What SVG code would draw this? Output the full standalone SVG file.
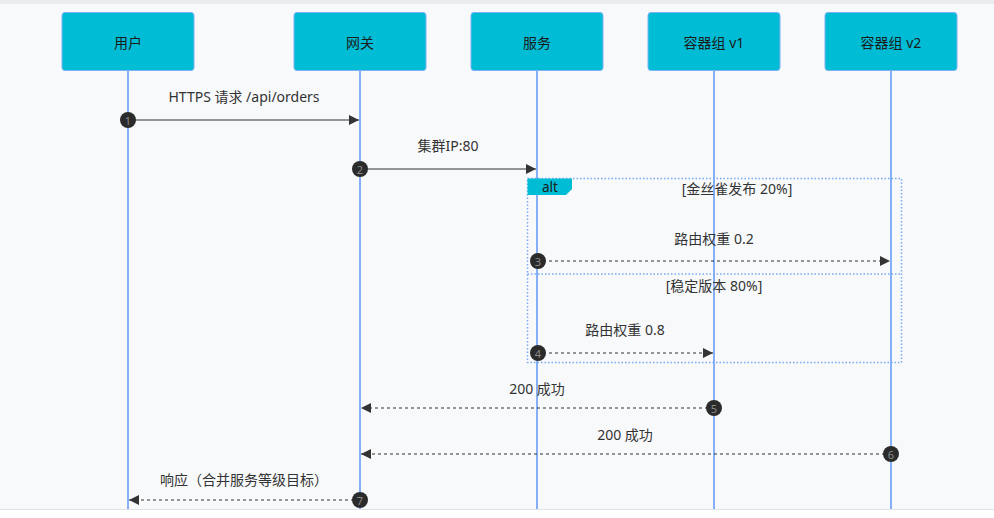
<svg xmlns="http://www.w3.org/2000/svg" width="994" height="518" viewBox="0 0 994 518">
<defs>
<style>
.bg{fill:#f8f9fb}
.actor rect{fill:#00bcd4;stroke:#7fb0f5;stroke-width:1}
.actor text{font-family:"Noto Sans","Noto Sans CJK SC",sans-serif;font-size:14px;fill:#1b1b1b;text-anchor:middle;dominant-baseline:central}
.life{stroke:#78a8f8;stroke-width:1.8}
.msg{stroke:#333;stroke-width:1.2;fill:none}
.dash{stroke-dasharray:3,3}
.lbl{font-family:"Noto Sans","Noto Sans CJK SC",sans-serif;font-size:14px;fill:#333;text-anchor:middle}
.num circle{fill:#2b2b2b}
.num text{font-family:"Noto Sans",sans-serif;font-size:11px;fill:#8a8a8a;text-anchor:middle;dominant-baseline:central}
.frame{fill:none;stroke:#78a8f8;stroke-width:1.5;stroke-dasharray:1.5,2}
</style>
<marker id="ah" viewBox="0 0 10 10" refX="10" refY="5" markerWidth="10" markerHeight="10" markerUnits="userSpaceOnUse" orient="auto">
<path d="M0,0 L10,5 L0,10 z" fill="#333"/>
</marker>
</defs>
<rect x="0" y="0" width="994" height="518" fill="#ffffff"/>
<rect x="0" y="0" width="994" height="4" fill="#eaecf0"/>
<rect class="bg" x="0" y="4" width="994" height="505"/>
<line x1="0" y1="509.5" x2="994" y2="509.5" stroke="#e0e2e6" stroke-width="1"/>

<g id="lifelines">
<line class="life" x1="128" y1="70" x2="128" y2="509"/>
<line class="life" x1="360" y1="70" x2="360" y2="509"/>
<line class="life" x1="537" y1="70" x2="537" y2="509"/>
<line class="life" x1="714" y1="70" x2="714" y2="509"/>
<line class="life" x1="891" y1="70" x2="891" y2="509"/>
</g>

<g id="user" class="actor"><rect x="62" y="12.5" width="132" height="58" rx="3"/><text x="128" y="42">用户</text></g>
<g id="gateway" class="actor"><rect x="294" y="12.5" width="132" height="58" rx="3"/><text x="360" y="42">网关</text></g>
<g id="service" class="actor"><rect x="471" y="12.5" width="132" height="58" rx="3"/><text x="537" y="42">服务</text></g>
<g id="podv1" class="actor"><rect x="648" y="12.5" width="132" height="58" rx="3"/><text x="714" y="42">容器组 v1</text></g>
<g id="podv2" class="actor"><rect x="825" y="12.5" width="132" height="58" rx="3"/><text x="891" y="42">容器组 v2</text></g>

<g id="alt-frame">
<rect class="frame" x="527.5" y="178.5" width="374" height="184"/>
<line class="frame" x1="527.5" y1="274" x2="901.5" y2="274"/>
<path d="M527.5,178.5 H572 V189 L566,195 H527.5 Z" fill="#00bcd4"/>
<text x="550" y="191.5" font-family="'Noto Sans',sans-serif" font-size="13.5" fill="#1b1b1b" text-anchor="middle">alt</text>
<text class="lbl" x="737" y="194">[金丝雀发布 20%]</text>
<text class="lbl" x="714" y="291">[稳定版本 80%]</text>
</g>

<g id="connectors">
<line class="msg" x1="128" y1="120" x2="359" y2="120" marker-end="url(#ah)"/>
<text class="lbl" x="244" y="102">HTTPS 请求 /api/orders</text>
<line class="msg" x1="360" y1="169" x2="536" y2="169" marker-end="url(#ah)"/>
<text class="lbl" x="448" y="151">集群IP:80</text>
<line class="msg dash" x1="537" y1="261" x2="890" y2="261" marker-end="url(#ah)"/>
<text class="lbl" x="714" y="244">路由权重 0.2</text>
<line class="msg dash" x1="537" y1="353" x2="713" y2="353" marker-end="url(#ah)"/>
<text class="lbl" x="625" y="335">路由权重 0.8</text>
<line class="msg dash" x1="714" y1="408" x2="361" y2="408" marker-end="url(#ah)"/>
<text class="lbl" x="537" y="394">200 成功</text>
<line class="msg dash" x1="891" y1="454" x2="361" y2="454" marker-end="url(#ah)"/>
<text class="lbl" x="625" y="440">200 成功</text>
<line class="msg dash" x1="360" y1="500" x2="129" y2="500" marker-end="url(#ah)"/>
<text class="lbl" x="244" y="485">响应（合并服务等级目标）</text>
</g>

<g id="numbers">
<g class="num"><circle cx="128" cy="120" r="8"/><text x="128" y="120">1</text></g>
<g class="num"><circle cx="360" cy="169" r="8"/><text x="360" y="169">2</text></g>
<g class="num"><circle cx="538" cy="261" r="8"/><text x="538" y="261">3</text></g>
<g class="num"><circle cx="538" cy="353" r="8"/><text x="538" y="353">4</text></g>
<g class="num"><circle cx="714" cy="408" r="8"/><text x="714" y="408">5</text></g>
<g class="num"><circle cx="891" cy="454" r="8"/><text x="891" y="454">6</text></g>
<g class="num"><circle cx="360" cy="500" r="8"/><text x="360" y="500">7</text></g>
</g>
</svg>
